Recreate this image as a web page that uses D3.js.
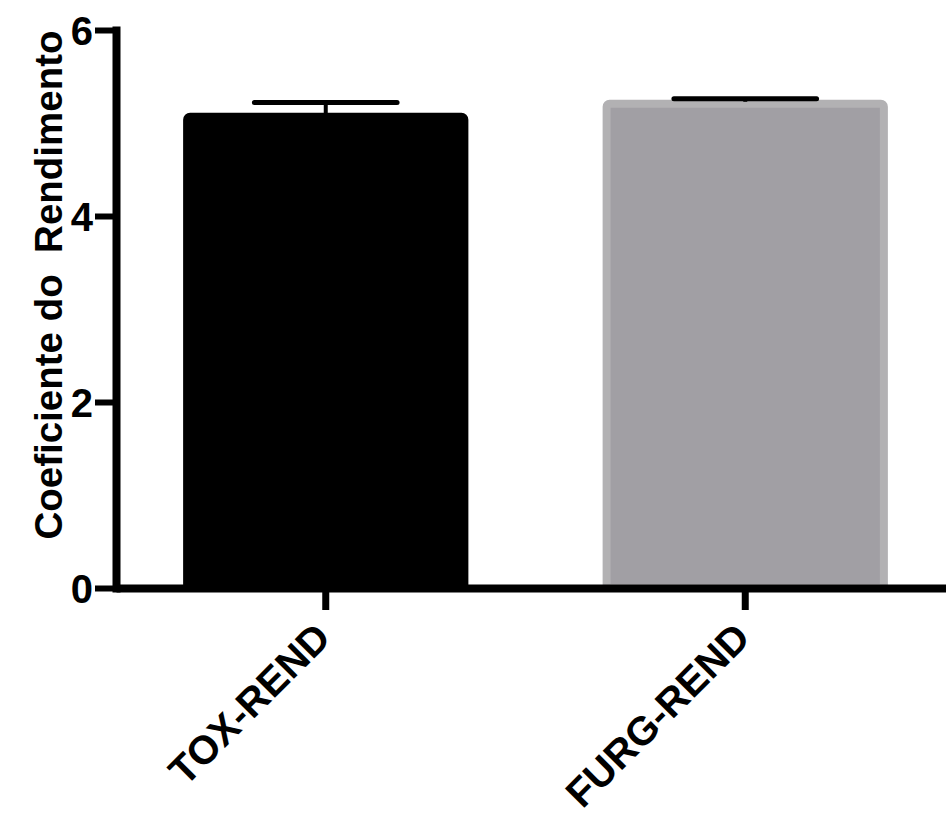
<!DOCTYPE html>
<html>
<head>
<meta charset="utf-8">
<script src="https://cdn.jsdelivr.net/npm/d3@7"></script>
<style>
  body { margin: 0; background: #fff; }
  text { font-family: "Liberation Sans", Arial, sans-serif; font-weight: bold; }
</style>
</head>
<body>
<div id="chart"></div>
<script>
// groups, means and SEM
var categories = ["TOX-REND", "FURG-REND"];
var means = [5.11, 5.25];
var sems = [0.11, 0.01];
var yTicks = [0, 2, 4, 6];
var yTitle = "Coeficiente do\u00a0\u00a0Rendimento";

var W = 946, H = 816;
var fills = ["#000000", "#a19fa4"];
var strokes = ["#000000", "#b2b1b3"];

var svg = d3.select("#chart").append("svg")
  .attr("width", W)
  .attr("height", H);

var y = d3.scaleLinear().domain([0, 6]).range([588, 30]);
var x = d3.scaleBand().domain(categories)
  .range([116, 955])
  .paddingInner(0.32)
  .paddingOuter(0.16);

var bw = x.bandwidth();
var data = categories.map(function(c, i){
  return { cat: c, mean: means[i], sem: sems[i], fill: fills[i], stroke: strokes[i] };
});

// bars (stroke kept inside the bar box)
var sw = 8;
svg.selectAll("rect.bar").data(data).enter().append("rect")
  .attr("class", "bar")
  .attr("x", function(d){ return x(d.cat) + sw/2; })
  .attr("y", function(d){ return y(d.mean) + sw/2; })
  .attr("width", bw - sw)
  .attr("height", function(d){ return y(0) - y(d.mean) - sw/2; })
  .attr("rx", 3)
  .attr("fill", function(d){ return d.fill; })
  .attr("stroke", function(d){ return d.stroke; })
  .attr("stroke-width", sw);

// error bars, upper half only
var eb = svg.selectAll("g.err").data(data).enter().append("g").attr("class", "err");
eb.append("line")
  .attr("x1", function(d){ return x(d.cat) + bw/2; })
  .attr("x2", function(d){ return x(d.cat) + bw/2; })
  .attr("y1", function(d){ return y(d.mean) + 2; })
  .attr("y2", function(d){ return y(d.mean + d.sem); })
  .attr("stroke", "#000")
  .attr("stroke-width", 4);
eb.append("line")
  .attr("x1", function(d){ return x(d.cat) + bw/4; })
  .attr("x2", function(d){ return x(d.cat) + bw*3/4; })
  .attr("y1", function(d){ return y(d.mean + d.sem); })
  .attr("y2", function(d){ return y(d.mean + d.sem); })
  .attr("stroke", "#000")
  .attr("stroke-width", 5)
  .attr("stroke-linecap", "round");

// y axis
var gy = svg.append("g")
  .attr("transform", "translate(116,0)")
  .call(d3.axisLeft(y).tickValues(yTicks).tickFormat(d3.format("d")).tickSize(21).tickSizeOuter(0).tickPadding(2));
gy.select(".domain").attr("stroke", "#000").attr("stroke-width", 8).attr("stroke-linecap", "square");
gy.selectAll(".tick line").attr("stroke", "#000").attr("stroke-width", 6);
gy.selectAll(".tick text")
  .attr("font-size", 40)
  .attr("fill", "#000")
  .attr("dy", "0.36em");

// x axis
var gx = svg.append("g")
  .attr("transform", "translate(0,588)")
  .call(d3.axisBottom(x).tickSize(22).tickSizeOuter(0));
gx.select(".domain").attr("stroke", "#000").attr("stroke-width", 8);
gx.selectAll(".tick line").attr("stroke", "#000").attr("stroke-width", 7);
gx.selectAll(".tick text")
  .attr("font-size", 40)
  .attr("fill", "#000")
  .attr("text-anchor", "end")
  .attr("x", 0).attr("y", 0).attr("dy", 0)
  .attr("transform", "translate(7,52) rotate(-45)");

// y title
svg.append("text")
  .attr("transform", "translate(62,285) rotate(-90)")
  .attr("text-anchor", "middle")
  .attr("font-size", 38.5)
  .attr("fill", "#000")
  .text(yTitle);
</script>
</body>
</html>
